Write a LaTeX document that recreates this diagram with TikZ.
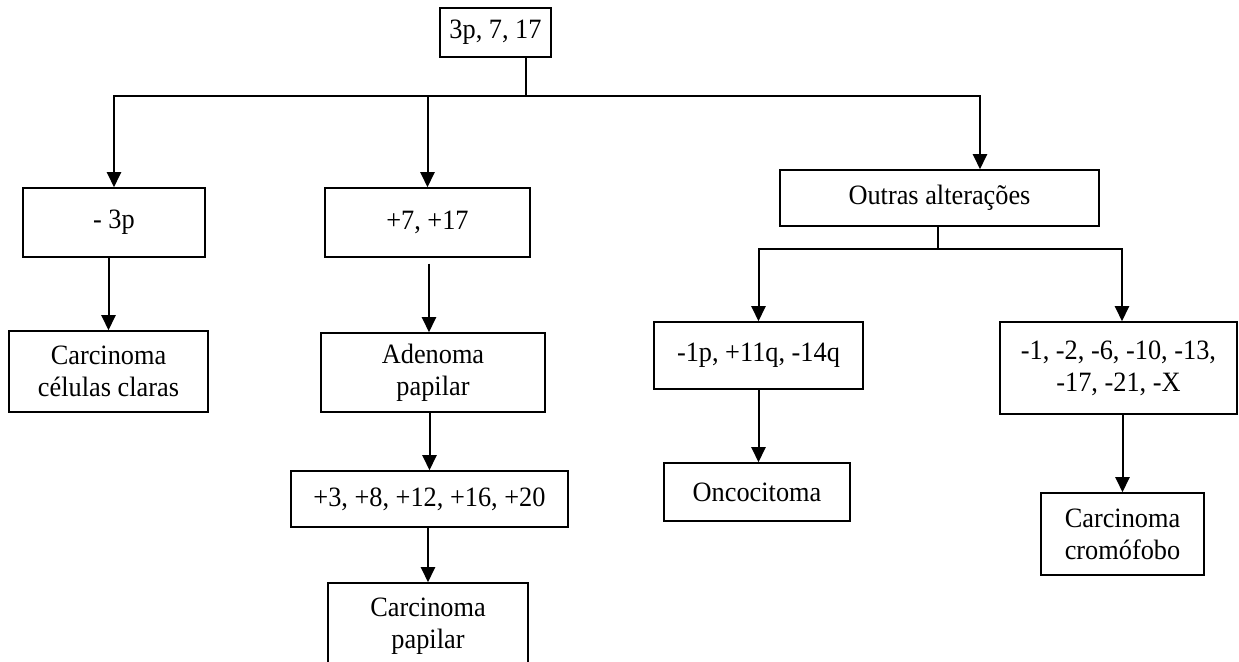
\documentclass[tikz,border=0pt]{standalone}
\usepackage{fontspec}
\setmainfont{Liberation Serif}[FakeStretch=0.94]
\usetikzlibrary{
    arrows.meta,   % Modern arrow tips
    calc           % Coordinate calculations
}

\begin{document}
\begin{tikzpicture}[x=0.5pt,y=-0.5pt,
    box/.style={draw,line width=0.75pt,align=center,inner sep=0pt,
        font=\fontsize{14}{16}\selectfont},
    line/.style={line width=1pt},
    arr/.style={line,-{Triangle[length=7.5pt,width=7pt]}}]
    \useasboundingbox (0,0) rectangle (1239,662);
    % boxes
    \node[box,minimum width=55.5pt,minimum height=24.5pt] (top) at (495.5,32.5) {3p, 7, 17};
    \node[box,minimum width=91pt,minimum height=34.5pt] (m3p) at (114,222.5) {- 3p};
    \node[box,minimum width=102.5pt,minimum height=34.5pt] (p717) at (427.5,222.5) {+7, +17};
    \node[box,minimum width=159.5pt,minimum height=28pt] (outras) at (939.5,198) {Outras alterações};
    \node[box,minimum width=99.5pt,minimum height=40.5pt] (ccc) at (108.5,371.5) {Carcinoma\\células claras};
    \node[box,minimum width=112pt,minimum height=39.5pt] (aden) at (433,372.5) {Adenoma\\papilar};
    \node[box,minimum width=138.5pt,minimum height=28pt] (p3) at (429.5,499) {+3, +8, +12, +16, +20};
    \node[box,minimum width=100pt,minimum height=43pt] (cpap) at (428,626) {Carcinoma\\papilar};
    \node[box,minimum width=104.5pt,minimum height=33.5pt] (m1p) at (758.5,355.5) {-1p, +11q, -14q};
    \node[box,minimum width=118.5pt,minimum height=46pt] (m1) at (1118.5,368) {-1, -2, -6, -10, -13,\\-17, -21, -X};
    \node[box,minimum width=93pt,minimum height=29pt] (onco) at (757,492) {Oncocitoma};
    \node[box,minimum width=81.5pt,minimum height=41pt] (crom) at (1122.5,534) {Carcinoma\\cromófobo};
    % connectors
    \coordinate (bus) at (526,96);
    \coordinate (bus2) at (938,249);
    \draw[line] (bus |- top.south) -- (bus);
    \draw[arr] (bus) -| (m3p.north);
    \draw[arr] (bus) -| ($(outras.north)+(40.5,0)$);
    \draw[arr] (bus) -| (p717.north);
    \draw[line] (bus2 |- outras.south) -- (bus2);
    \draw[arr] (bus2) -| (m1p.north);
    \draw[arr] (bus2) -| ($(m1.north)+(3.5,0)$);
    \draw[arr] (ccc.north |- m3p.south) -- (ccc.north);
    \draw[arr] ($(p717.south)+(1.5,6)$) -- ($(aden.north)+(-4,0)$);
    \draw[arr] (p3.north |- aden.south) -- (p3.north);
    \draw[arr] (cpap.north |- p3.south) -- (cpap.north);
    \draw[arr] (m1p.south) -- (m1p.south |- onco.north);
    \draw[arr] (crom.north |- m1.south) -- (crom.north);
\end{tikzpicture}
\end{document}
